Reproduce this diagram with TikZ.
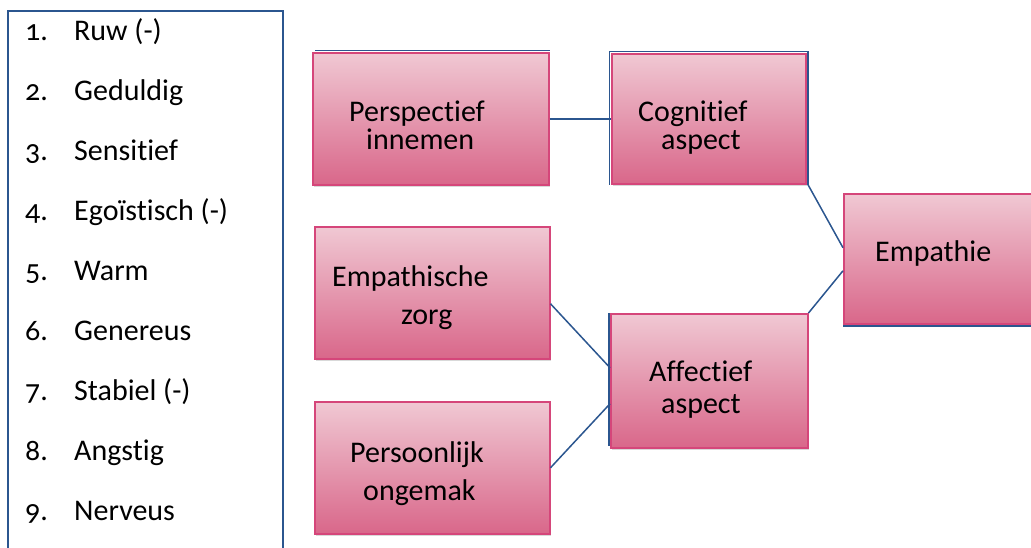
\documentclass[tikz,border=0pt]{standalone}
\usepackage{fontspec}
\setmainfont{Carlito}[Ligatures=CommonOff]
\usetikzlibrary{shadows}

\definecolor{boxedge}{HTML}{D5467A}
\definecolor{boxtop}{HTML}{F0C8D3}
\definecolor{boxbottom}{HTML}{D9678A}
\definecolor{linkblue}{HTML}{2B568F}

\tikzset{
  every node/.style={font=\fontsize{30}{36}\selectfont},
  conceptbox/.style={rectangle, draw=boxedge, line width=1.5pt,
    top color=boxtop, bottom color=boxbottom, inner sep=0pt,
    anchor=north west,
    drop shadow={shadow xshift=1pt, shadow yshift=-2pt, opacity=0.25, fill=black!60}},
  boxtext/.style={anchor=base west, inner sep=0pt},
  numtext/.style={boxtext, font=\fontsize{30}{36}\selectfont\addfontfeatures{Numbers=OldStyle}},
  link/.style={draw=linkblue, line width=1.5pt},
  panel/.style={draw=linkblue, line width=1.6pt}
}

\begin{document}
\begin{tikzpicture}[x=1pt, y=-1pt]
  \useasboundingbox (0,0) rectangle (1031,547);

  % left panel with the numbered list
  \draw[panel] (8,570) -- (8,11) -- (283,11) -- (283,570);
  \foreach \n/\word [count=\k from 0] in {1/Ruw (-), 2/Geduldig, 3/Sensitief,
      4/Egoïstisch (-), 5/Warm, 6/Genereus, 7/Stabiel (-), 8/Angstig, 9/Nerveus} {
    \node[numtext] (num\n) at (25,40+60*\k) {\n.};
    \node[boxtext] (item\n) at (74,40+60*\k) {\word};
  }

  % concept boxes
  \node[conceptbox, minimum width=236pt, minimum height=132pt] (persp) at (312,52) {};
  \node[conceptbox, minimum width=194pt, minimum height=130pt] (cog) at (611,53) {};
  \node[conceptbox, minimum width=202pt, minimum height=130pt] (empathie) at (843,193) {};
  \node[conceptbox, minimum width=235pt, minimum height=132pt] (zorg) at (314,226) {};
  \node[conceptbox, minimum width=235pt, minimum height=132pt] (pers) at (314,401) {};
  \node[conceptbox, minimum width=197pt, minimum height=134pt] (aff) at (610,313) {};

  % blue outline fragments along the box edges
  \draw[link] ([xshift=3pt,yshift=1.6pt]persp.north west) -- ([yshift=1.6pt]persp.north east);
  \draw[link] ([xshift=-1.4pt]cog.south west) -- ([xshift=-1.4pt,yshift=1.6pt]cog.north west)
     -- ([xshift=1.4pt,yshift=1.6pt]cog.north east) -- ([xshift=1.4pt]cog.south east);
  \draw[link] ([yshift=-1.4pt]empathie.south west) -- ([yshift=-1.4pt]empathie.south east);
  \draw[link] ([xshift=-1.2pt]aff.north west) -- ([xshift=-1.2pt,yshift=3pt]aff.south west);

  % box texts
  \node[boxtext] (tpersp1) at (349,121) {Perspectief};
  \node[boxtext] (tpersp2) at (366,149) {innemen};
  \node[boxtext] (tcog1) at (638,121) {Cognitief};
  \node[boxtext] (tcog2) at (661,149) {aspect};
  \node[boxtext] (temp) at (875,261) {Empathie};
  \node[boxtext] (tzorg1) at (332,286) {Empathische};
  \node[boxtext] (tzorg2) at (401,324) {zorg};
  \node[boxtext] (tpers1) at (350,462) {Persoonlijk};
  \node[boxtext] (tpers2) at (363,500) {ongemak};
  \node[boxtext] (taff1) at (649,381) {Affectief};
  \node[boxtext] (taff2) at (661,413) {aspect};

  % connectors
  \draw[link] (persp.east) -- (cog.west);
  \draw[link] ([xshift=1.4pt]cog.south east) -- ([yshift=11pt]empathie.west);
  \draw[link] (aff.north east) -- ([yshift=-12pt]empathie.west);
  \draw[link] ([yshift=-11pt]zorg.east) -- ([yshift=13pt]aff.west);
  \draw[link] (pers.east) -- ([yshift=-23pt]aff.west);
\end{tikzpicture}
\end{document}
